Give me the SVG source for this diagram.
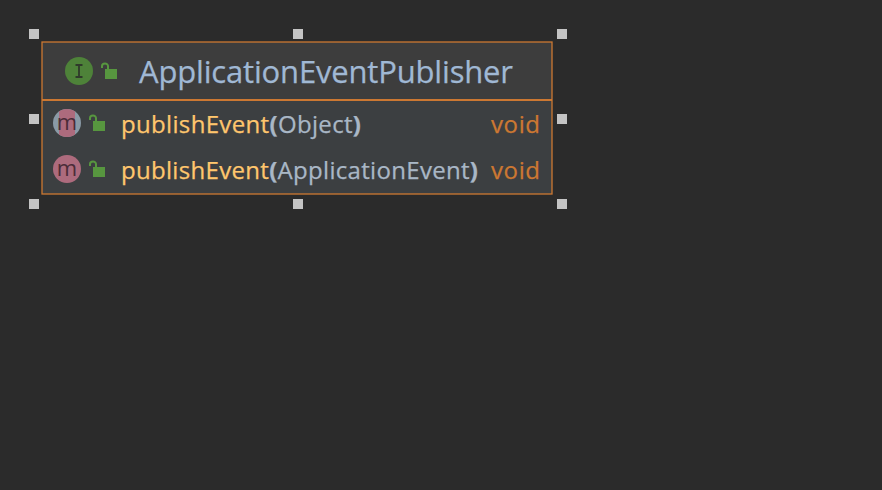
<svg xmlns="http://www.w3.org/2000/svg" width="882" height="490" viewBox="0 0 882 490">
<style>
text{font-family:"Open Sans","Noto Sans","Liberation Sans",sans-serif;stroke-width:.25px}
.h{fill:#c4c4c4}
.t{font-size:31px;fill:#a0b8d4;stroke:#a0b8d4}
.m{font-size:24px;fill:#ffc66d;stroke:#ffc66d}
.p{fill:#a9b7c6;stroke:#a9b7c6}
.b{font-weight:700}
.r{font-size:24px;fill:#cc7832;stroke:#cc7832}
.g{font-size:22px;fill:#4b2c38;text-anchor:middle}
.lb{fill:#57963f}
.ls{fill:none;stroke:#57963f;stroke-width:2}
</style>
<defs>
<g id="lock"><rect x="4" y="6" width="12" height="10" class="lb"/><path d="M1 5V3A3 2.500 0 0 1 7 3V6" class="ls"/></g>
<clipPath id="c1"><circle cx="67" cy="123" r="14"/></clipPath>
</defs>
<rect width="882" height="490" fill="#2b2b2b"/>
<g id="selection-handles">
<rect class="h" x="29" y="29" width="10" height="10"/><rect class="h" x="293" y="29" width="10" height="10"/><rect class="h" x="557" y="29" width="10" height="10"/>
<rect class="h" x="29" y="114" width="10" height="10"/><rect class="h" x="557" y="114" width="10" height="10"/>
<rect class="h" x="29" y="199" width="10" height="10"/><rect class="h" x="293" y="199" width="10" height="10"/><rect class="h" x="557" y="199" width="10" height="10"/>
</g>
<g id="node-application-event-publisher">
<rect x="42" y="42" width="510" height="152" fill="#3c3f41"/>
<rect x="42" y="42" width="510" height="58" fill="#3d3d3d"/>
<rect x="42" y="42" width="510" height="152" fill="none" stroke="#cc7832" stroke-width="1.300"/>
<line x1="42" y1="100" x2="552" y2="100" stroke="#cc7832" stroke-width="2"/>
<circle cx="79" cy="71" r="14" fill="#4e8239"/>
<path d="M75.500 65h7M75.500 77h7M79 65v12" fill="none" stroke="#2f3a2b" stroke-width="1.800"/>
<use href="#lock" x="101" y="63"/>
<text x="139" y="83" class="t" textLength="374">ApplicationEventPublisher</text>
<circle cx="67" cy="123" r="14" fill="#8a9aa6"/>
<rect x="59" y="109" width="16" height="28" fill="#ad6b7d" clip-path="url(#c1)"/>
<text x="67" y="130" class="g">m</text>
<use href="#lock" x="89" y="115"/>
<text x="121" y="133" class="m" textLength="240">publishEvent<tspan class="p b">(</tspan><tspan class="p">Object</tspan><tspan class="p b">)</tspan></text>
<text x="491" y="133" class="r" textLength="49">void</text>
<circle cx="67" cy="169" r="14" fill="#ad6b7d"/>
<text x="67" y="176" class="g">m</text>
<use href="#lock" x="89" y="161"/>
<text x="121" y="179" class="m" textLength="357">publishEvent<tspan class="p b">(</tspan><tspan class="p">ApplicationEvent</tspan><tspan class="p b">)</tspan></text>
<text x="491" y="179" class="r" textLength="49">void</text>
</g>
<g id="connectors"/>
</svg>
